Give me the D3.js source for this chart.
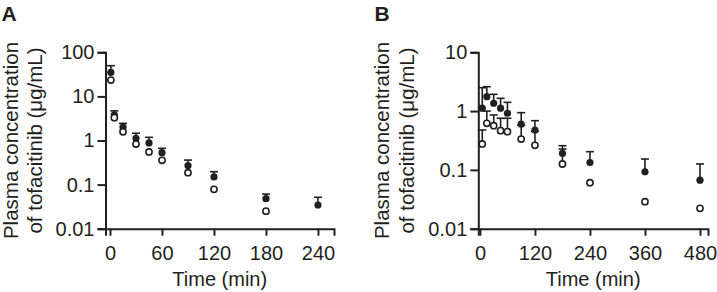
<!DOCTYPE html>
<html>
<head>
<meta charset="utf-8">
<script src="https://cdn.jsdelivr.net/npm/d3@7/dist/d3.min.js"></script>
<style>
  html, body { margin: 0; padding: 0; background: #fff; }
  svg { display: block; }
  text { font-family: "Liberation Sans", Arial, Helvetica, sans-serif; fill: #231f20; }
</style>
</head>
<body>
<svg id="chart" width="717" height="292"></svg>
<script>
// ---------- Panel A data ----------
const timesA = [1, 5, 15, 30, 45, 60, 90, 120, 180, 240];
const filledA = [35, 3.8, 2.0, 1.12, 0.88, 0.53, 0.27, 0.149, 0.048, 0.0345];
const filledSdA = [14.7, 0.9, 0.45, 0.34, 0.30, 0.135, 0.09, 0.047, 0.013, 0.017];
const openTimesA = [1, 5, 15, 30, 45, 60, 90, 120, 180];
const openA = [23.5, 3.3, 1.58, 0.83, 0.55, 0.356, 0.186, 0.078, 0.025];
const openSdA = [null, null, null, null, null, null, null, null, null];
const xTicksA = [0, 60, 120, 180, 240];
const yTicksA = [0.01, 0.1, 1, 10, 100];
const yTickLabelsA = ["0.01", "0.1", "1", "10", "100"];

// ---------- Panel B data ----------
const timesB = [5, 15, 30, 45, 60, 90, 120, 180, 240, 360, 480];
const filledB = [1.12, 1.76, 1.36, 1.12, 0.92, 0.60, 0.477, 0.191, 0.133, 0.093, 0.067];
const filledSdB = [1.38, 0.84, 0.57, 0.53, 0.49, 0.34, 0.21, 0.067, 0.071, 0.060, 0.059];
const openB = [0.276, 0.62, 0.565, 0.465, 0.447, 0.335, 0.262, 0.126, 0.0606, 0.0288, 0.0222];
const openSdB = [0.201, 0.38, 0.295, 0.29, 0.308, 0.24, 0.19, 0.10, null, null, null];
const xTicksB = [0, 120, 240, 360, 480];
const yTicksB = [0.01, 0.1, 1, 10];
const yTickLabelsB = ["0.01", "0.1", "1", "10"];

const panelLetters = ["A", "B"];
const xTitle = "Time (min)";
const yTitleLines = ["Plasma concentration", "of tofacitinib (\u03bcg/mL)"];

const INK = "#231f20";
const svg = d3.select("#chart");

function drawPanel(p) {
  const g = svg.append("g");
  const x = d3.scaleLinear().domain(p.xDomain).range(p.xRange);
  const y = d3.scaleLog().domain(p.yDomain).range([228.7, 52.3]);

  // axes
  const yAxis = d3.axisLeft(y).tickValues(p.yTicks)
    .tickFormat((d, i) => p.yTickLabels[i]).tickSizeOuter(0).tickSize(8).tickPadding(3);
  const gy = g.append("g").attr("transform", `translate(${p.xRange[0]},0)`).call(yAxis);
  const xAxis = d3.axisBottom(x).tickValues(p.xTicks).tickSizeOuter(0).tickSize(7).tickPadding(10);
  const gx = g.append("g").attr("transform", `translate(0,${228.7})`).call(xAxis);
  [gx, gy].forEach(a => {
    a.select(".domain").attr("stroke", INK).attr("stroke-width", 2);
    a.selectAll(".tick line").attr("stroke", INK).attr("stroke-width", 2);
    a.selectAll(".tick text").attr("fill", INK).style("font-size", "20px")
      .style("font-family", '"Liberation Sans", Arial, sans-serif');
  });

  // titles
  g.append("text").attr("x", (p.xRange[0] + p.xRange[1]) / 2).attr("y", 285.5)
    .attr("text-anchor", "middle").style("font-size", "20px").text(xTitle);
  const cy = (228.7 + 52.3) / 2;
  p.yTitleX.forEach((bx, i) => {
    g.append("text").attr("transform", `translate(${bx},${cy}) rotate(-90)`)
      .attr("text-anchor", "middle").style("font-size", "20.5px").text(yTitleLines[i]);
  });
  g.append("text").attr("x", p.letterX).attr("y", 20.5)
    .style("font-size", "21px").style("font-weight", "bold").text(p.letter);

  const capW = 4;
  const filled = p.fT.map((t, i) => ({ t, v: p.fV[i], sd: p.fSd[i] }));
  const open = p.oT.map((t, i) => ({ t, v: p.oV[i], sd: p.oSd[i] }));

  const drawErr = (data) => {
    const eg = g.append("g").attr("stroke", INK).attr("stroke-width", 1.6).attr("fill", "none");
    data.filter(d => d.sd != null).forEach(d => {
      const x0 = x(d.t), y0 = y(d.v), y1 = y(d.v + d.sd);
      eg.append("line").attr("x1", x0).attr("x2", x0).attr("y1", y0).attr("y2", y1);
      eg.append("line").attr("x1", x0 - capW).attr("x2", x0 + capW).attr("y1", y1).attr("y2", y1);
    });
  };
  drawErr(open);
  drawErr(filled);

  g.append("g").selectAll("circle").data(filled).join("circle")
    .attr("cx", d => x(d.t)).attr("cy", d => y(d.v)).attr("r", 3.6).attr("fill", INK);
  g.append("g").selectAll("circle").data(open).join("circle")
    .attr("cx", d => x(d.t)).attr("cy", d => y(d.v)).attr("r", 3.1)
    .attr("fill", "#fff").attr("stroke", INK).attr("stroke-width", 1.6);
}

drawPanel({
  letter: panelLetters[0], letterX: 1.5,
  xDomain: [-5.2, 258.5], xRange: [105.5, 334],
  yDomain: [0.01, 100], yTicks: yTicksA, yTickLabels: yTickLabelsA, xTicks: xTicksA,
  yTitleX: [17.5, 41.5],
  fT: timesA, fV: filledA, fSd: filledSdA,
  oT: openTimesA, oV: openA, oSd: openSdA
});
drawPanel({
  letter: panelLetters[1], letterX: 374.5,
  xDomain: [-3.6, 497.5], xRange: [478.3, 708],
  yDomain: [0.01, 10], yTicks: yTicksB, yTickLabels: yTickLabelsB, xTicks: xTicksB,
  yTitleX: [389, 413.5],
  fT: timesB, fV: filledB, fSd: filledSdB,
  oT: timesB, oV: openB, oSd: openSdB
});
</script>
</body>
</html>
